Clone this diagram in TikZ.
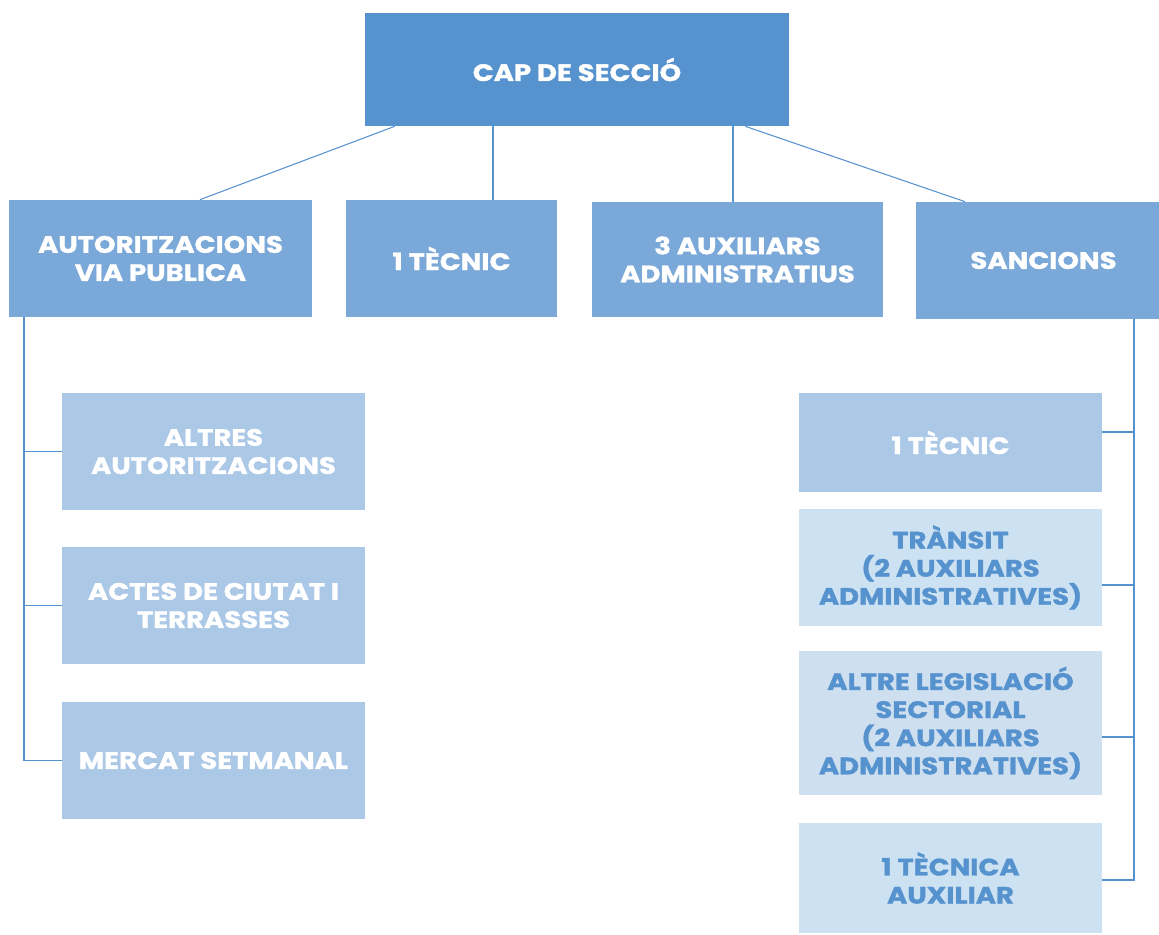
\documentclass[tikz,border=0pt]{standalone}
\usepackage{fontspec}
\setmainfont{Poppins}[FakeStretch=1.16,BoldFeatures={FakeBold=1.3}]
\definecolor{capblue}{HTML}{5592CE}
\definecolor{midblue}{HTML}{7AA8D8}
\definecolor{softblue}{HTML}{ABC8E6}
\definecolor{paleblue}{HTML}{CCE2F2}
\definecolor{greyblue}{HTML}{CEDFF0}
\tikzset
{
	my box/.style={rectangle,inner sep=0pt,align=center,font=\bfseries\fontsize{13.5}{16}\selectfont},
	head box/.style={my box,fill=capblue,text=white,minimum width=8.48cm,minimum height=2.26cm},
	area box/.style={my box,fill=midblue,text=white,minimum height=2.34cm},
	unit box/.style={my box,fill=softblue,text=white,minimum width=6.06cm},
	team box/.style={my box,fill=paleblue,text=capblue,minimum width=6.06cm},
	my link/.style={draw=capblue,line width=0.6pt}
}
\begin{document}
\begin{tikzpicture}[x=0.02cm,y=-0.02cm]
		\useasboundingbox (0,0) rectangle (1159,934);
		% top
		\node[head box] (cap) at (577,69.5) {CAP DE SECCIÓ};
		% second row
		\node[area box,minimum width=6.06cm] (aut) at (160.5,258.5) {AUTORITZACIONS\\VIA PUBLICA};
		\node[area box,minimum width=4.22cm] (tec) at (451.5,258.5) {1 TÈCNIC};
		\node[area box,minimum width=5.82cm,minimum height=2.3cm] (aux) at (737.5,259.5) {3 AUXILIARS\\ADMINISTRATIUS};
		\node[area box,minimum width=4.86cm] (sanc) at (1037.5,260.5) {\hspace*{0.24cm}SANCIONS};
		% left column
		\node[unit box,minimum height=2.34cm] (alt) at (213.5,451.5) {ALTRES\\AUTORITZACIONS};
		\node[unit box,minimum height=2.34cm] (act) at (213.5,605.5) {ACTES DE CIUTAT I\\TERRASSES};
		\node[unit box,minimum height=2.34cm] (mer) at (213.5,760.5) {MERCAT SETMANAL};
		% right column
		\node[unit box,minimum height=1.98cm] (r1) at (950.5,442.5) {1 TÈCNIC};
		\node[team box,minimum height=2.34cm] (r2) at (950.5,567.5) {TRÀNSIT\\(2 AUXILIARS\\ADMINISTRATIVES)};
		\node[team box,fill=greyblue,minimum height=2.88cm] (r3) at (950.5,723) {ALTRE LEGISLACIÓ\\SECTORIAL\\(2 AUXILIARS\\ADMINISTRATIVES)};
		\node[team box,minimum height=2.2cm] (r4) at (950.5,878) {1 TÈCNICA\\AUXILIAR};
		% links from the head
		\draw[my link] ([xshift=0.6cm]cap.south west) -- ([xshift=0.79cm]aut.north);
		\draw[my link] ([xshift=0.83cm]tec.north) -- ([xshift=0.83cm]tec.north |- cap.south);
		\draw[my link] ([xshift=-0.09cm]aux.north) -- ([xshift=-0.09cm]aux.north |- cap.south);
		\draw[my link] ([xshift=-0.88cm]cap.south east) -- ([xshift=-1.45cm]sanc.north);
		% left trunk
		\coordinate (ltop) at (24,317);
		\draw[my link] (ltop) |- (mer.west);
		\foreach \n in {alt,act}
		\draw[my link] (\n.west) -- (\n.west -| ltop);
		% right trunk
		\coordinate (rtop) at (1134,319);
		\draw[my link] (rtop) |- (r4.east |- 0,880);
		\draw[my link] (r1.east |- 0,432) -- (rtop |- 0,432);
		\draw[my link] (r2.east |- 0,585) -- (rtop |- 0,585);
		\draw[my link] (r3.east |- 0,737) -- (rtop |- 0,737);
	\end{tikzpicture}
\end{document}
